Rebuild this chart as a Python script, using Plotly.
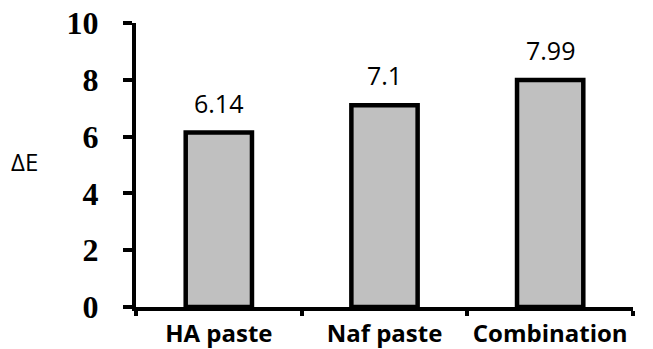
import plotly.graph_objects as go

categories = ["HA paste", "Naf paste", "Combination"]
values = [6.14, 7.1, 7.99]
value_labels = ["6.14", "7.1", "7.99"]
y_ticks = [0, 2, 4, 6, 8, 10]

fig = go.Figure()
fig.add_trace(go.Bar(
    x=categories, y=values, width=0.4,
    marker=dict(color="#c0c0c0", line=dict(color="black", width=4.5)),
    showlegend=False, hoverinfo="skip",
))

for c, v, t in zip(categories, values, value_labels):
    fig.add_annotation(x=c, y=v, text=t, showarrow=False, yanchor="bottom",
                       yshift=11, font=dict(family="Open Sans", size=25, color="black"))

fig.add_annotation(xref="paper", yref="paper", x=-0.225, y=0.513, text="ΔE",
                   showarrow=False, xanchor="center", yanchor="middle",
                   font=dict(family="Open Sans", size=24, color="black"))

fig.update_layout(
    width=653, height=349,
    margin=dict(l=136, r=20, t=23, b=42, autoexpand=False),
    paper_bgcolor="white", plot_bgcolor="white",
    xaxis=dict(
        showline=True, linecolor="black", linewidth=4, automargin=False, tickangle=0,
        ticks="outside", tickson="boundaries", ticklen=5, tickwidth=4, tickcolor="black",
        tickfont=dict(family="Open Sans", size=24, color="black", weight="bold"),
        showgrid=False, range=[-0.5, 2.5], ticklabeloverflow="allow",
        ticklabelstandoff=2,
    ),
    yaxis=dict(
        range=[0, 10], tickvals=y_ticks, ticktext=[str(v) for v in y_ticks],
        showline=True, linecolor="black", linewidth=4, automargin=False,
        ticks="outside", ticklen=9, tickwidth=4, tickcolor="black",
        tickfont=dict(family="Liberation Serif", size=32, color="black", weight="bold"),
        showgrid=False, zeroline=False, ticklabelstandoff=18, ticklabeloverflow="allow",
    ),
)

fig.write_html("out.html", config={"displayModeBar": False},
               post_script="document.body.style.margin='0';")
